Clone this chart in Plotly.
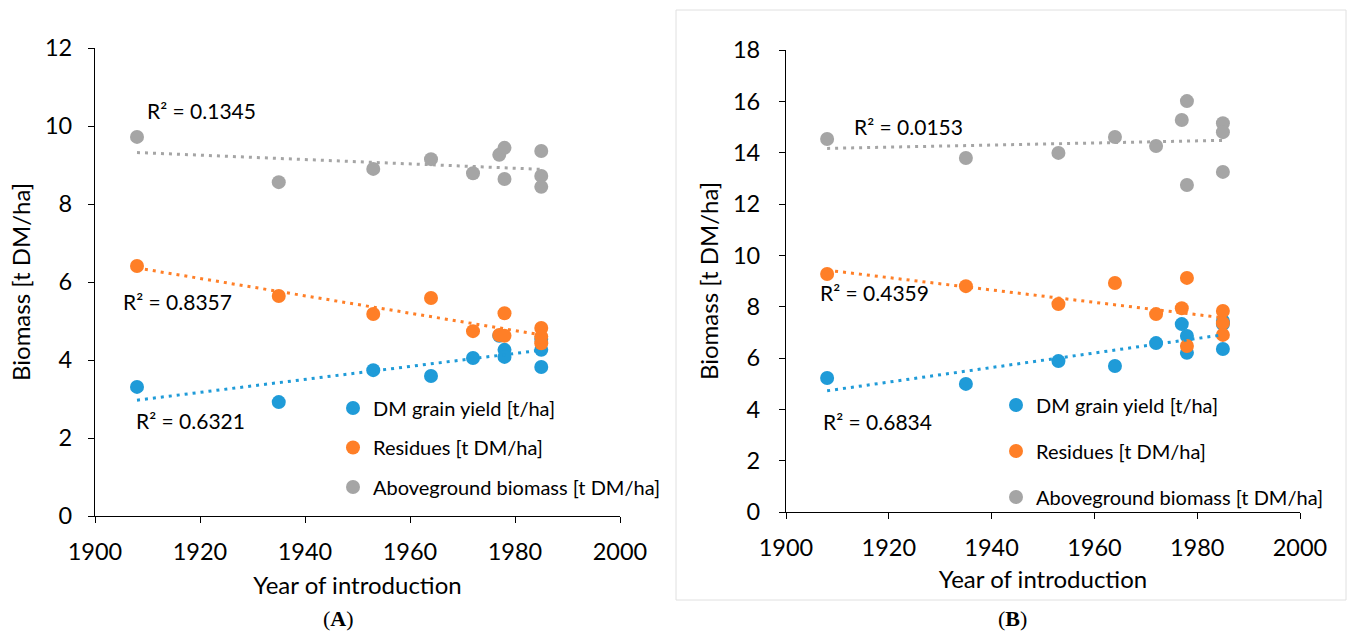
import numpy as np
import plotly.graph_objects as go

# ---------------- data ----------------
years = [1908, 1935, 1953, 1964, 1972, 1977, 1978, 1978, 1985, 1985, 1985]

a_grain = [3.31, 2.92, 3.74, 3.59, 4.05, 4.62, 4.26, 4.08, 4.54, 4.26, 3.82]
a_resid = [6.41, 5.64, 5.18, 5.59, 4.74, 4.64, 5.20, 4.62, 4.82, 4.43, 4.60]
a_above = [9.72, 8.56, 8.90, 9.15, 8.79, 9.26, 9.44, 8.64, 9.36, 8.72, 8.44]

b_grain = [5.22, 4.99, 5.88, 5.69, 6.58, 7.32, 6.86, 6.20, 7.32, 7.44, 6.35]
b_resid = [9.27, 8.80, 8.10, 8.92, 7.71, 7.94, 9.12, 6.47, 7.83, 7.36, 6.90]
b_above = [14.53, 13.79, 13.99, 14.61, 14.26, 15.27, 16.01, 12.74, 15.15, 14.80, 13.25]

series_names = ["DM grain yield [t/ha]", "Residues [t DM/ha]", "Aboveground biomass [t DM/ha]"]
r2_a = ["R² = 0.6321", "R² = 0.8357", "R² = 0.1345"]
r2_b = ["R² = 0.6834", "R² = 0.4359", "R² = 0.0153"]
panel_labels = ["A", "B"]
x_title = "Year of introduction"
y_title = "Biomass [t DM/ha]"

# ---------------- style ----------------
colors = ["#1f9bd8", "#ff7f27", "#a5a5a5"]
FONT = "Lato"
W, H = 1351, 637


def px_x(p):
    return p / W


def px_y(p):
    return 1 - p / H


fig = go.Figure()

panels = [
    dict(xa="x", ya="y", leg="legend", data=[a_grain, a_resid, a_above]),
    dict(xa="x2", ya="y2", leg="legend2", data=[b_grain, b_resid, b_above]),
]

for p in panels:
    for i, vals in enumerate(p["data"]):
        fig.add_trace(go.Scatter(
            x=years, y=vals, mode="markers", name=series_names[i],
            marker=dict(color=colors[i], size=14, line=dict(width=0)),
            xaxis=p["xa"], yaxis=p["ya"], legend=p["leg"],
            legendgroup=p["leg"] + str(i),
        ))
    for i, vals in enumerate(p["data"]):
        k, c = np.polyfit(years, vals, 1)
        xs = np.array([min(years), max(years)])
        fig.add_trace(go.Scatter(
            x=xs, y=k * xs + c, mode="lines", showlegend=False, hoverinfo="skip",
            line=dict(color=colors[i], width=3, dash="3px,5px"),
            xaxis=p["xa"], yaxis=p["ya"],
        ))

axis_common = dict(
    showline=True, linecolor="black", linewidth=1.3, ticks="outside", ticklen=6,
    tickcolor="black", tickwidth=1.3, showgrid=False, zeroline=False,
    tickfont=dict(family=FONT, size=23.5, color="black"), automargin=False,
)
title_font = dict(family=FONT, size=24, color="black")

fig.update_layout(
    width=W, height=H, autosize=False,
    margin=dict(l=0, r=0, t=0, b=0),
    paper_bgcolor="white", plot_bgcolor="white",
    showlegend=True,
    xaxis=dict(domain=[px_x(95), px_x(620)], range=[1900, 2000], dtick=20, anchor="y",
               title=dict(text=x_title, font=title_font, standoff=12),
               ticklabelstandoff=9, **axis_common),
    yaxis=dict(domain=[px_y(516), px_y(48)], range=[0, 12], dtick=2, anchor="x",
               title=dict(text=y_title, font=title_font, standoff=7),
               ticklabelstandoff=11, **axis_common),
    xaxis2=dict(domain=[px_x(786), px_x(1300)], range=[1900, 2000], dtick=20, anchor="y2",
                title=dict(text=x_title, font=title_font, standoff=10),
                ticklabelstandoff=9, **axis_common),
    yaxis2=dict(domain=[px_y(512), px_y(50)], range=[0, 18], dtick=2, anchor="x2",
                title=dict(text=y_title, font=title_font, standoff=7),
                ticklabelstandoff=14, **axis_common),
    legend=dict(x=px_x(333), y=px_y(447.5), xanchor="left", yanchor="middle",
                font=dict(family=FONT, size=20, color="black"), tracegroupgap=10.5,
                bgcolor="rgba(0,0,0,0)"),
    legend2=dict(x=px_x(996), y=px_y(451), xanchor="left", yanchor="middle",
                 font=dict(family=FONT, size=20, color="black"), tracegroupgap=17,
                 bgcolor="rgba(0,0,0,0)"),
)

# R² annotations (data coords)
ann_a_pos = [(1907.4, 2.44), (1905.0, 5.51), (1909.5, 10.41)]
ann_b_pos = [(1906.8, 3.54), (1906.2, 8.57), (1912.8, 15.0)]
for txt, (ax, ay) in zip(r2_a, ann_a_pos):
    fig.add_annotation(x=ax, y=ay, xref="x", yref="y", text=txt, showarrow=False,
                       xanchor="left", yanchor="middle",
                       font=dict(family=FONT, size=21, color="black"))
for txt, (ax, ay) in zip(r2_b, ann_b_pos):
    fig.add_annotation(x=ax, y=ay, xref="x2", yref="y2", text=txt, showarrow=False,
                       xanchor="left", yanchor="middle",
                       font=dict(family=FONT, size=21, color="black"))

# panel labels
for lab, cx in zip(panel_labels, [338, 1012]):
    fig.add_annotation(x=px_x(cx), y=px_y(618), xref="paper", yref="paper",
                       text="(<b>" + lab + "</b>)", showarrow=False,
                       xanchor="center", yanchor="middle",
                       font=dict(family="Liberation Serif", size=22, color="black"))

# light frame around panel B
fig.add_shape(type="rect", xref="paper", yref="paper",
              x0=px_x(676), x1=px_x(1346), y0=px_y(600), y1=px_y(10),
              line=dict(color="#e0e0e0", width=1), fillcolor="rgba(0,0,0,0)", layer="below")

fig.write_html("out.html")
